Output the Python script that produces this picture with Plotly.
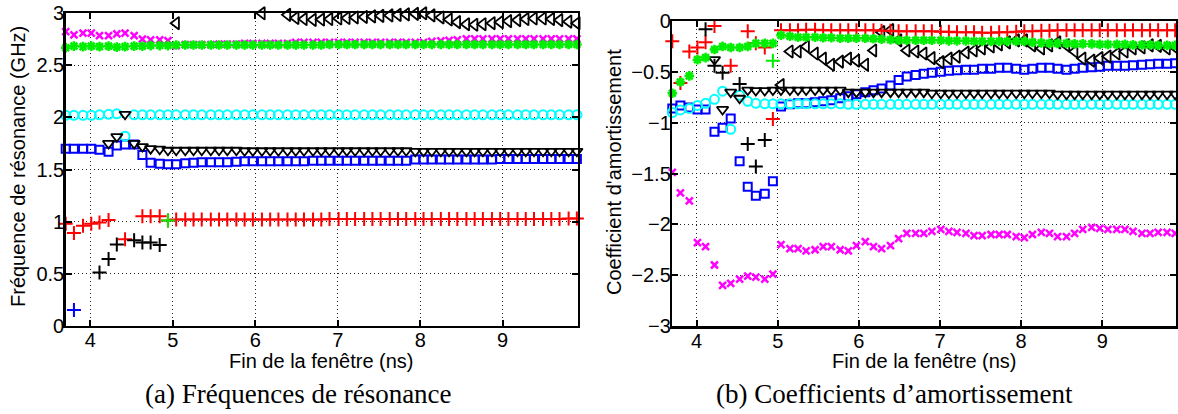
import plotly.graph_objects as go

N = None

# window end times (ns)
t = [3.70, 3.80, 3.91, 4.01, 4.11, 4.22, 4.32, 4.42, 4.53, 4.63,
     4.73, 4.84, 4.94, 5.04, 5.15, 5.25, 5.35, 5.46, 5.56, 5.66,
     5.77, 5.87, 5.97, 6.08, 6.18, 6.28, 6.39, 6.49, 6.59, 6.70,
     6.80, 6.90, 7.01, 7.11, 7.21, 7.32, 7.42, 7.52, 7.63, 7.73,
     7.83, 7.94, 8.04, 8.14, 8.25, 8.35, 8.45, 8.56, 8.66, 8.76,
     8.87, 8.97, 9.07, 9.18, 9.28, 9.38, 9.49, 9.59, 9.69, 9.80,
     9.90]

# ---- resonance frequencies (GHz) ----
red_plus_f = [0.98, 0.89, 0.96, 0.98, 0.99, 1.015, N, 0.83, N, 1.05,
              1.05, 1.05, 1.01, 1.02, 1.02, 1.02, 1.02, 1.02, 1.02, 1.02,
              1.02, 1.02, 1.02, 1.02, 1.02, 1.02, 1.02, 1.02, 1.02, 1.02,
              1.02, 1.025, 1.025, 1.025, 1.025, 1.025, 1.025, 1.025, 1.025, 1.025,
              1.025, 1.025, 1.025, 1.025, 1.025, 1.025, 1.025, 1.025, 1.025, 1.025,
              1.025, 1.025, 1.025, 1.025, 1.025, 1.025, 1.025, 1.025, 1.025, 1.03,
              1.03]
black_plus_f = [N, N, N, N, 0.51, 0.64, 0.78, N, 0.82, 0.80,
                0.80, 0.775] + [N] * 49
blue_plus_f = [N, 0.15] + [N] * 59
green_plus_f = [N] * 12 + [1.01] + [N] * 48
green_star_f = [2.67, 2.685, 2.68, 2.685, 2.68, 2.685, 2.675, 2.68, 2.685, 2.685,
                2.69, 2.69, 2.69, 2.695, 2.695, 2.695, 2.695, 2.695, 2.695, 2.695,
                2.695, 2.695, 2.695, 2.695, 2.695, 2.695, 2.695, 2.695, 2.695, 2.695,
                2.695, 2.70, 2.70, 2.70, 2.70, 2.70, 2.70, 2.70, 2.70, 2.70,
                2.70, 2.70, 2.70, 2.70, 2.70, 2.70, 2.70, 2.70, 2.70, 2.70,
                2.70, 2.70, 2.70, 2.70, 2.70, 2.70, 2.70, 2.70, 2.70, 2.70,
                2.70]
magenta_x_f = [2.824, 2.793, 2.809, 2.809, 2.786, 2.786, 2.802, 2.809, 2.786, 2.751,
               2.744, 2.744, 2.738, 2.69, 2.70, 2.70, 2.70, 2.70, 2.705, 2.705,
               2.705, 2.71, 2.71, 2.71, 2.71, 2.71, 2.71, 2.72, 2.72, 2.72,
               2.72, 2.72, 2.72, 2.72, 2.72, 2.72, 2.72, 2.72, 2.72, 2.72,
               2.72, 2.72, 2.72, 2.73, 2.735, 2.74, 2.745, 2.755, 2.755, 2.755,
               2.755, 2.755, 2.755, 2.755, 2.755, 2.755, 2.755, 2.755, 2.755, 2.755,
               2.755]
cyan_o_f = [2.02, 2.02, 2.02, 2.02, 2.025, 2.03, 2.035, 1.82, 2.025, 2.025,
            2.025, 2.025, 2.025, 2.025, 2.025, 2.025, 2.025, 2.025, 2.025, 2.025,
            2.025, 2.025, 2.025, 2.025, 2.025, 2.025, 2.025, 2.025, 2.025, 2.025,
            2.025, 2.025, 2.025, 2.025, 2.025, 2.025, 2.025, 2.025, 2.025, 2.025,
            2.025, 2.025, 2.025, 2.025, 2.025, 2.025, 2.025, 2.025, 2.025, 2.025,
            2.025, 2.025, 2.025, 2.025, 2.025, 2.025, 2.025, 2.025, 2.025, 2.025,
            2.025]
blue_sq_f = [1.70, 1.70, 1.70, 1.70, 1.69, 1.67, 1.73, 1.74, 1.74, 1.64,
             1.565, 1.555, 1.55, 1.55, 1.56, 1.565, 1.57, 1.57, 1.57, 1.57,
             1.575, 1.58, 1.58, 1.58, 1.58, 1.58, 1.58, 1.58, 1.58, 1.585,
             1.585, 1.585, 1.585, 1.585, 1.585, 1.585, 1.585, 1.585, 1.585, 1.585,
             1.585, 1.595, 1.595, 1.595, 1.595, 1.595, 1.595, 1.595, 1.595, 1.595,
             1.595, 1.60, 1.60, 1.60, 1.60, 1.60, 1.60, 1.60, 1.60, 1.60,
             1.60]
tri_down_f = [N, N, N, N, N, 1.75, 1.815, 2.03, 1.75, 1.72,
              1.70, 1.695, 1.685, 1.685, 1.685, 1.685, 1.685, 1.685, 1.685, 1.685,
              1.685, 1.68, 1.68, 1.68, 1.68, 1.68, 1.68, 1.68, 1.68, 1.68,
              1.68, 1.68, 1.68, 1.68, 1.68, 1.68, 1.68, 1.68, 1.68, 1.68,
              1.68, 1.675, 1.675, 1.675, 1.675, 1.675, 1.675, 1.675, 1.675, 1.675,
              1.675, 1.675, 1.675, 1.675, 1.675, 1.675, 1.675, 1.675, 1.675, 1.675,
              1.675]
tri_left_f = [N, N, N, N, N, N, N, N, N, N,
              N, N, N, 2.905, N, N, N, N, N, N,
              N, N, N, 3.0, N, N, 2.985, 2.955, 2.945, 2.937,
              2.94, 2.945, 2.95, 2.955, 2.96, 2.965, 2.97, 2.975, 2.98, 2.985,
              2.99, 2.995, 3.0, 2.98, 2.96, 2.94, 2.915, 2.895, 2.89, 2.895,
              2.905, 2.915, 2.925, 2.935, 2.945, 2.95, 2.95, 2.945, 2.935, 2.92,
              2.905]

# ---- damping coefficients ----
red_plus_d = [-0.20, -0.61, -0.30, -0.26, -0.21, -0.05, N, -0.44, N, -0.10,
              -0.22, -0.26, -0.965, -0.09, -0.09, -0.09, -0.085, -0.085, -0.09, -0.09,
              -0.09, -0.09, -0.09, -0.09, -0.09, -0.095, -0.095, -0.10, -0.10, -0.10,
              -0.10, -0.10, -0.105, -0.105, -0.11, -0.11, -0.11, -0.115, -0.115, -0.11,
              -0.11, -0.105, -0.10, -0.10, -0.095, -0.095, -0.09, -0.09, -0.09, -0.09,
              -0.09, -0.09, -0.09, -0.09, -0.09, -0.09, -0.09, -0.09, -0.09, -0.09,
              -0.09]
black_plus_d = [N, N, N, N, -0.08, -0.44, -0.51, N, -0.62, -1.21,
                -1.43, -1.17] + [N] * 49
blue_plus_d = [N] * 61
green_plus_d = [N] * 12 + [-0.39] + [N] * 48
green_star_d = [-0.71, -0.60, -0.54, -0.38, -0.36, -0.28, -0.25, -0.26, -0.26, -0.25,
                -0.22, -0.22, -0.22, -0.14, -0.15, -0.16, -0.16, -0.16, -0.165, -0.165,
                -0.17, -0.17, -0.17, -0.17, -0.175, -0.18, -0.185, -0.19, -0.19, -0.19,
                -0.19, -0.19, -0.19, -0.195, -0.195, -0.195, -0.20, -0.20, -0.20, -0.20,
                -0.20, -0.20, -0.20, -0.21, -0.215, -0.22, -0.22, -0.22, -0.225, -0.225,
                -0.225, -0.23, -0.23, -0.23, -0.23, -0.235, -0.235, -0.235, -0.24, -0.24,
                -0.24]
magenta_x_d = [-1.49, -1.69, -1.77, -2.18, -2.22, -2.40, -2.60, -2.58, -2.54, -2.51,
               -2.52, -2.54, -2.49, -2.20, -2.24, -2.24, -2.26, -2.25, -2.22, -2.22,
               -2.25, -2.26, -2.21, -2.17, -2.22, -2.24, -2.21, -2.14, -2.09, -2.09,
               -2.09, -2.07, -2.05, -2.07, -2.08, -2.09, -2.11, -2.11, -2.10, -2.10,
               -2.10, -2.12, -2.13, -2.10, -2.08, -2.09, -2.12, -2.12, -2.09, -2.05,
               -2.03, -2.04, -2.05, -2.05, -2.05, -2.07, -2.09, -2.09, -2.08, -2.08,
               -2.09]
cyan_o_d = [-0.90, -0.875, -0.86, -0.83, -0.81, -0.77, -0.69, -1.065, -0.73, -0.79,
            -0.81, -0.815, -0.815, -0.815, -0.815, -0.815, -0.815, -0.815, -0.815, -0.815,
            -0.815, -0.82, -0.82, -0.82, -0.82, -0.82, -0.82, -0.82, -0.82, -0.82,
            -0.82, -0.82, -0.82, -0.82, -0.82, -0.82, -0.82, -0.82, -0.82, -0.82,
            -0.82, -0.82, -0.82, -0.82, -0.82, -0.82, -0.82, -0.82, -0.82, -0.82,
            -0.82, -0.82, -0.82, -0.82, -0.82, -0.82, -0.82, -0.82, -0.82, -0.82,
            -0.82]
blue_sq_d = [-0.86, -0.83, -0.85, -0.87, -0.87, -1.09, -1.05, -0.96, -1.38, -1.63,
             -1.72, -1.70, -1.575, -0.84, -0.82, -0.81, -0.81, -0.80, -0.79, -0.78,
             -0.76, -0.74, -0.72, -0.70, -0.68, -0.665, -0.635, -0.58, -0.545, -0.53,
             -0.52, -0.51, -0.50, -0.49, -0.485, -0.48, -0.48, -0.47, -0.47, -0.46,
             -0.46, -0.47, -0.48, -0.47, -0.46, -0.46, -0.47, -0.48, -0.47, -0.46,
             -0.455, -0.45, -0.44, -0.44, -0.44, -0.435, -0.43, -0.425, -0.42, -0.42,
             -0.415]
tri_down_d = [N, N, N, N, N, -0.38, -0.87, -0.70, -0.76, -0.68,
              -0.685, -0.685, -0.68, -0.68, -0.68, -0.68, -0.68, -0.68, -0.68, -0.68,
              -0.68, -0.70, -0.70, -0.70, -0.70, -0.70, -0.70, -0.70, -0.70, -0.70,
              -0.70, -0.71, -0.71, -0.71, -0.71, -0.71, -0.71, -0.71, -0.71, -0.71,
              -0.71, -0.71, -0.71, -0.71, -0.71, -0.71, -0.72, -0.72, -0.72, -0.72,
              -0.72, -0.72, -0.72, -0.72, -0.72, -0.72, -0.72, -0.72, -0.72, -0.72,
              -0.72]
tri_left_d = [N, N, N, N, N, N, N, N, N, N,
              N, N, N, -0.63, -0.30, -0.30, -0.25, -0.32, -0.37, -0.43,
              -0.40, -0.37, -0.39, -0.43, -0.29, -0.11, -0.09, -0.19, -0.29, -0.30,
              -0.32, -0.365, -0.405, -0.37, -0.35, -0.31, -0.29, -0.27, -0.25, -0.23,
              -0.21, -0.19, -0.19, -0.24, -0.27, -0.24, -0.21, -0.24, -0.30, -0.37,
              -0.39, -0.365, -0.35, -0.32, -0.30, -0.27, -0.26, -0.24, -0.245, -0.27,
              -0.26]

xticks = [4, 5, 6, 7, 8, 9]
freq_ticks = [0, 0.5, 1, 1.5, 2, 2.5, 3]
damp_ticks = [-3, -2.5, -2, -1.5, -1, -0.5, 0]

# (freq, damp, symbol, colour, size, line width) in drawing order
series = [
    (blue_sq_f, blue_sq_d, "square-open", "#0000ff", 8, 2),
    (cyan_o_f, cyan_o_d, "circle-open", "#00ffff", 9, 2),
    (tri_down_f, tri_down_d, "triangle-down-open", "#000000", 10, 1.8),
    (tri_left_f, tri_left_d, "triangle-left-open", "#000000", 11, 1.8),
    (magenta_x_f, magenta_x_d, "x-thin-open", "#ff00ff", 7, 2.5),
    (red_plus_f, red_plus_d, "cross-thin-open", "#ff0000", 10, 2),
    (black_plus_f, black_plus_d, "cross-thin-open", "#000000", 10, 2),
    (blue_plus_f, blue_plus_d, "cross-thin-open", "#0000ff", 10, 2),
    (green_star_f, green_star_d, "asterisk-open", "#00ee00", 8, 2.5),
    (green_plus_f, green_plus_d, "cross-thin-open", "#00ee00", 10, 2),
]

fig = go.Figure()
for f, d, sym, col, sz, lw in series:
    mk = dict(symbol=sym, size=sz, color=col, line=dict(color=col, width=lw))
    fig.add_trace(go.Scatter(x=t, y=f, mode="markers", marker=mk, xaxis="x", yaxis="y",
                             cliponaxis=False, showlegend=False))
    fig.add_trace(go.Scatter(x=t, y=d, mode="markers", marker=mk, xaxis="x2", yaxis="y2",
                             cliponaxis=False, showlegend=False))

W, H = 1178, 414


def px_x(p):
    return p / W


def px_y(p):
    return 1 - p / H


font_sans = "Liberation Sans, Arial, Helvetica, sans-serif"
axis_common = dict(
    automargin=False,
    showline=True, linewidth=2.5, linecolor="black", mirror="ticks",
    ticks="inside", ticklen=6, tickwidth=2, tickcolor="black",
    showgrid=True, gridcolor="#222222", gridwidth=1, griddash="1px,3px",
    zeroline=False, ticklabelstandoff=-5, ticklabeloverflow="allow",
    tickfont=dict(family=font_sans, size=20, color="black"),
)

fig.update_layout(
    template="none",
    width=W, height=H, margin=dict(l=0, r=0, t=0, b=0, pad=0),
    paper_bgcolor="white", plot_bgcolor="white",
    font=dict(family=font_sans, size=20, color="black"),
    xaxis=dict(domain=[px_x(65.7), px_x(577.7)], range=[3.7, 9.91], tickvals=xticks,
               anchor="y", **axis_common),
    yaxis=dict(domain=[px_y(325.7), px_y(13.3)], range=[0, 3], tickvals=freq_ticks,
               anchor="x", **axis_common),
    xaxis2=dict(domain=[px_x(672.3), px_x(1176)], range=[3.7, 9.91], tickvals=xticks,
                anchor="y2", **axis_common),
    yaxis2=dict(domain=[px_y(326), px_y(21)], range=[-3, 0], tickvals=damp_ticks,
                anchor="x2", **axis_common),
)


def ann(text, x, y, size, family, angle=0):
    fig.add_annotation(text=text, x=px_x(x), y=px_y(y), xref="paper", yref="paper",
                       showarrow=False, textangle=angle, xanchor="center", yanchor="middle",
                       font=dict(family=family, size=size, color="black"))


ann("Fréquence de résonance (GHz)", 18, 167, 20, font_sans, -90)
ann("Coefficient d'amortissement", 614, 172, 20, font_sans, -90)
ann("Fin de la fenêtre (ns)", 321.7, 361, 20, font_sans)
ann("Fin de la fenêtre (ns)", 924, 361, 20, font_sans)
serif = "Liberation Serif, Times New Roman, serif"
ann("(a) Fréquences de résonance", 298, 394, 27, serif)
ann("(b) Coefficients d\u2019amortissement", 894.5, 394, 27, serif)

# the figure fills the whole window: drop the page's default body margin
fig.write_html("out.html",
               config={"displayModeBar": False, "staticPlot": True},
               post_script="document.body.style.margin='0px';"
                           "document.body.style.overflow='hidden';")
